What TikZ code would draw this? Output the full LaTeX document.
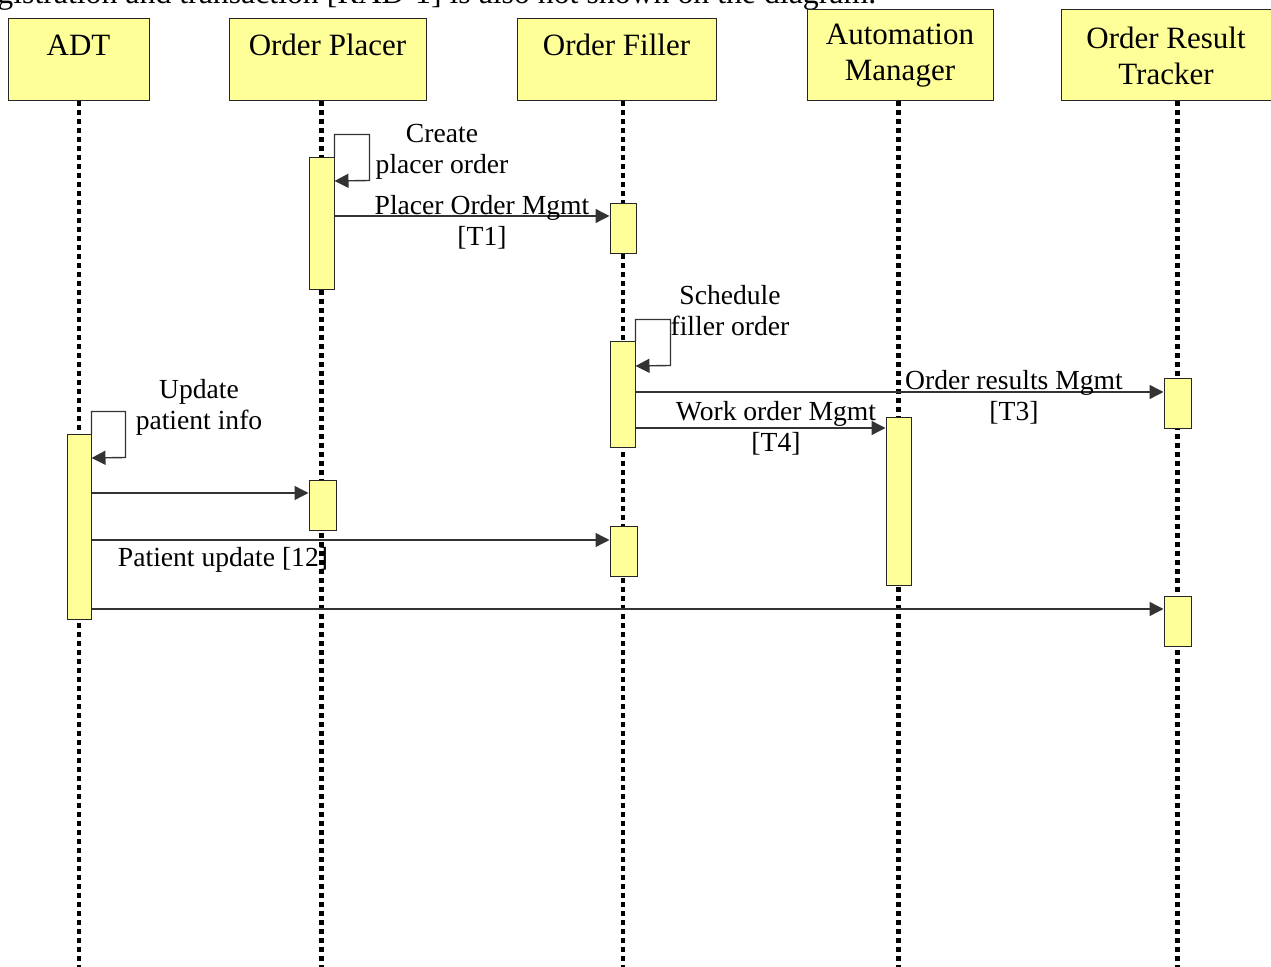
\documentclass[tikz,border=0pt]{standalone}
\usepackage{fontspec}
\setmainfont{Liberation Serif}
\usepackage{xcolor}
\definecolor{lifeyellow}{HTML}{FFFF99}
\usetikzlibrary{arrows.meta,fit,calc}
\pgfdeclarelayer{bg}
\pgfsetlayers{bg,main}

\begin{document}
\begin{tikzpicture}[
  x=0.5pt, y=-0.5pt,
  actor/.style={draw=black!85, line width=0.5pt, fill=lifeyellow, inner sep=0pt,
                align=center, font=\fontsize{15.5}{18}\selectfont},
  bar/.style={draw=black!85, line width=0.5pt, fill=lifeyellow, inner sep=0pt},
  life/.style={line width=2.1pt, dash pattern=on 2.4pt off 2.1pt},
  msg/.style={-{Triangle[length=7pt,width=7pt]}, line width=0.7pt, draw=black!80},
  lbl/.style={align=center, inner sep=0pt, font=\fontsize{13.8}{15.5}\selectfont}
]
\useasboundingbox (0,0) rectangle (1271,967);
% cut-off note above the diagram
\begin{scope}
  \clip (0,0) rectangle (1271,967);
  \node[anchor=base west, inner sep=0pt, font=\fontsize{15.9}{18}\selectfont] (note) at (-3,3.5)
    {gistration and transaction [RAD-1] is also not shown on the diagram.};
\end{scope}

% actors
\node[actor, minimum width=70.5pt, minimum height=41pt]   (adt) at (78.5,60)   {ADT\\[-3pt]\phantom{X}};
\node[actor, minimum width=98.5pt, minimum height=41pt]   (op)  at (327.5,60)  {Order Placer\\[-3pt]\phantom{X}};
\node[actor, minimum width=99.5pt, minimum height=41pt]   (of)  at (616.5,60)  {Order Filler\\[-3pt]\phantom{X}};
\node[actor, minimum width=93pt,   minimum height=45.5pt] (am)  at (900,55.5)  {Automation\\ Manager};
\node[actor, minimum width=105pt,  minimum height=45.5pt] (ort) at (1166,55.5) {Order Result\\ Tracker};

% activation bars
\node[bar, fit={(309,158) (334,290)}]   (op1)  {};
\node[bar, fit={(610,204) (636,254)}]   (of1)  {};
\node[bar, fit={(610,342) (635,448)}]   (of2)  {};
\node[bar, fit={(1164,379) (1191,429)}] (ort1) {};
\node[bar, fit={(886,418) (911,586)}]   (am1)  {};
\node[bar, fit={(67,435) (91,620)}]     (adt1) {};
\node[bar, fit={(309,481) (336,531)}]   (op2)  {};
\node[bar, fit={(610,527) (637,577)}]   (of3)  {};
\node[bar, fit={(1164,597) (1191,647)}] (ort2) {};

% lifelines
\begin{pgfonlayer}{bg}
\foreach \a/\b in {adt/adt1, op/op1, of/of1, am/am1, ort/ort1}
  \draw[life] (\a.south -| \b.center) -- (\b.center |- 0,967);
\end{pgfonlayer}

% self calls
\draw[msg] (op1.north east) -- ++(0,-23) -- ++(35,0) -- ++(0,46) -- (op1.east |- 0,181);
\node[lbl] (lcreate) at (442,152) {Create\\ placer order};
\draw[msg] (of2.north east) -- ++(0,-22) -- ++(35,0) -- ++(0,46) -- (of2.east |- 0,366);
\node[lbl] (lsched) at (730,311) {Schedule\\ filler order};
\draw[msg] (adt1.north east) -- ++(0,-23) -- ++(34,0) -- ++(0,46) -- (adt1.east |- 0,458);
\node[lbl] (lupd) at (199,407) {Update\\ patient info};

% messages
\draw[msg] (op1.east |- 0,216) -- (of1.west |- 0,216);
\node[lbl] (lt1) at (482,222) {Placer Order Mgmt\\ {[T1]}};
\draw[msg] (of2.east |- 0,392) -- (ort1.west |- 0,392);
\node[lbl] (lt3) at (1014,397) {Order results Mgmt\\ {[T3]}};
\draw[msg] (of2.east |- 0,428) -- (am1.west |- 0,428);
\node[lbl] (lt4) at (776,428) {Work order Mgmt\\ {[T4]}};
\draw[msg] (adt1.east |- 0,493) -- (op2.west |- 0,493);
\draw[msg] (adt1.east |- 0,540) -- (of3.west |- 0,540);
\node[lbl] (l12) at (223,560) {Patient update [12]};
\draw[msg] (adt1.east |- 0,609) -- (ort2.west |- 0,609);
\end{tikzpicture}
\end{document}
